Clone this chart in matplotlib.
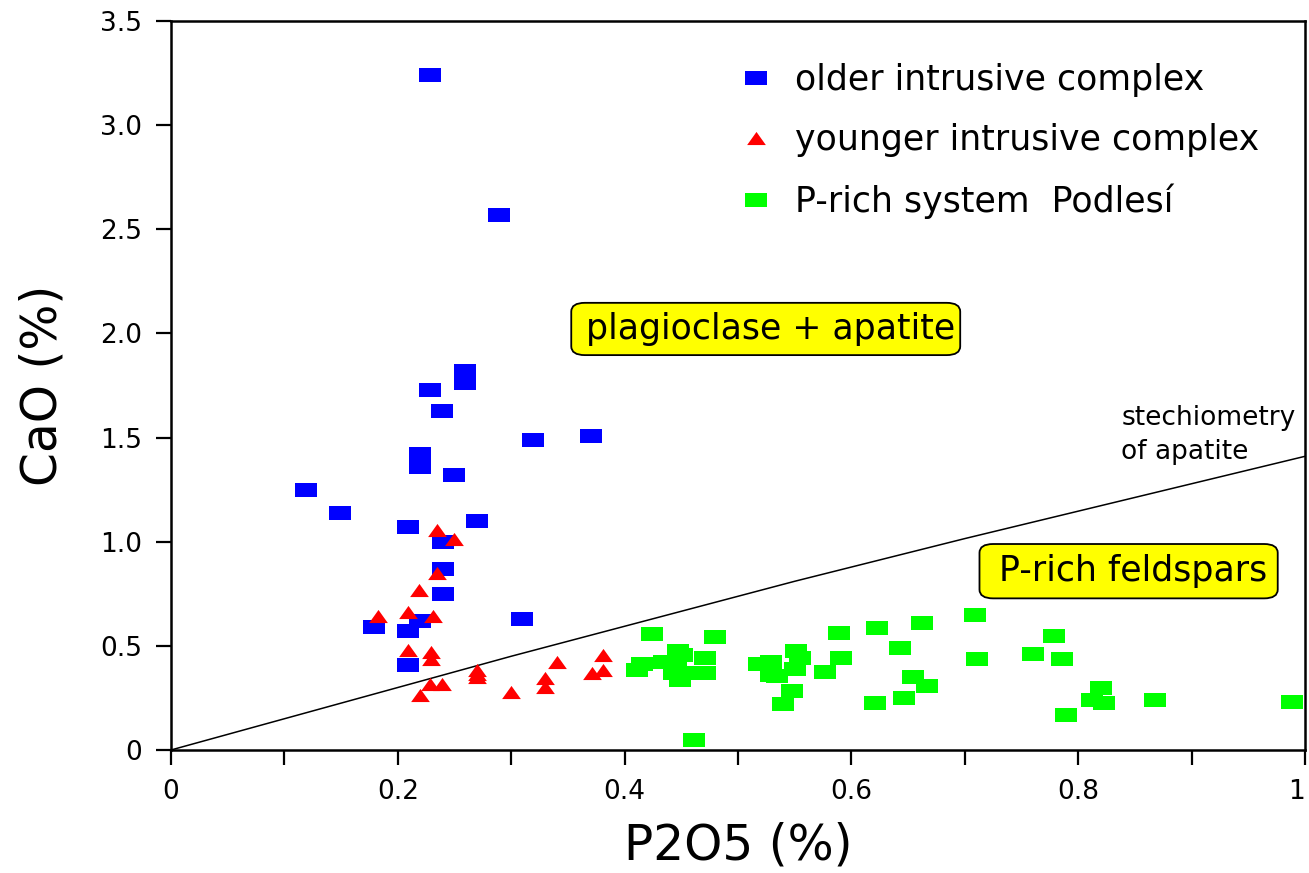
import numpy as np
import matplotlib
matplotlib.use("Agg")
import matplotlib.pyplot as plt
from matplotlib.patches import FancyBboxPatch

plt.rcParams['font.family'] = ['DejaVu Sans']

# older intrusive complex
older_p2o5 = [0.228, 0.289, 0.259, 0.259, 0.228, 0.239, 0.319, 0.370, 0.220, 0.220,
              0.250, 0.119, 0.149, 0.209, 0.270, 0.240, 0.240, 0.240, 0.310, 0.220,
              0.179, 0.209, 0.209]
older_cao = [3.24, 2.57, 1.82, 1.76, 1.73, 1.63, 1.49, 1.51, 1.42, 1.36,
             1.32, 1.25, 1.14, 1.07, 1.10, 1.00, 0.87, 0.75, 0.63, 0.62,
             0.59, 0.57, 0.41]

# younger intrusive complex
younger_p2o5 = [0.235, 0.250, 0.235, 0.219, 0.183, 0.209, 0.231, 0.209, 0.229, 0.229,
                0.220, 0.228, 0.239, 0.270, 0.270, 0.270, 0.300, 0.330, 0.330, 0.340,
                0.371, 0.381, 0.381]
younger_cao = [1.056, 1.013, 0.850, 0.768, 0.643, 0.662, 0.643, 0.480, 0.472, 0.438,
               0.262, 0.317, 0.317, 0.384, 0.367, 0.350, 0.280, 0.346, 0.302, 0.422,
               0.370, 0.456, 0.386]

# P-rich system Podlesi
podlesi_p2o5 = [0.424, 0.480, 0.589, 0.623, 0.411, 0.415, 0.435, 0.447, 0.451, 0.445,
                0.444, 0.449, 0.471, 0.465, 0.471, 0.519, 0.529, 0.529, 0.534, 0.551,
                0.555, 0.550, 0.548, 0.540, 0.591, 0.577, 0.621, 0.461, 0.662, 0.709,
                0.643, 0.711, 0.654, 0.667, 0.646, 0.779, 0.760, 0.786, 0.789, 0.820,
                0.812, 0.823, 0.868, 0.989]
podlesi_cao = [0.557, 0.542, 0.562, 0.587, 0.386, 0.414, 0.422, 0.475, 0.454, 0.400,
               0.368, 0.335, 0.443, 0.372, 0.372, 0.414, 0.422, 0.360, 0.354, 0.475,
               0.442, 0.390, 0.284, 0.221, 0.442, 0.374, 0.226, 0.048, 0.610, 0.646,
               0.491, 0.438, 0.350, 0.307, 0.250, 0.547, 0.461, 0.438, 0.166, 0.298,
               0.239, 0.228, 0.240, 0.230]

# stechiometry of apatite line
apatite_p2o5 = [0, 0.3, 0.55, 0.7, 1.0]
apatite_cao = [0, 0.45, 0.81, 1.015, 1.41]

rect = [(-1, -0.62), (1, -0.62), (1, 0.62), (-1, 0.62)]
tri = [(-1, -0.7), (1, -0.7), (0, 0.7)]

fig = plt.figure(figsize=(13.09, 8.73), dpi=100)
ax = fig.add_axes([0.1306, 0.1409, 0.8663, 0.835])

ax.plot(apatite_p2o5, apatite_cao, color='black', lw=1.1, zorder=1)

ax.plot(older_p2o5, older_cao, ls='none', marker=rect, ms=15.5, color='#0000ff',
        mec='#0000ff', mew=0, label='older intrusive complex', zorder=3)
ax.plot(younger_p2o5, younger_cao, ls='none', marker=tri, ms=13.5, color='#ff0000',
        mec='#ff0000', mew=0, label='younger intrusive complex', zorder=4)
ax.plot(podlesi_p2o5, podlesi_cao, ls='none', marker=rect, ms=15.5, color='#00ff00',
        mec='#00ff00', mew=0, label='P-rich system  Podlesí', zorder=3)

ax.set_xlim(0, 1)
ax.set_ylim(0, 3.5)

xt = np.round(np.arange(0, 1.01, 0.1), 1)
ax.set_xticks(xt)
ax.set_xticklabels(['0' if v == 0 else ('1' if v == 1 else (f'{v:.1f}' if round(v * 10) % 2 == 0 else '')) for v in xt])
yt = np.arange(0, 3.51, 0.5)
ax.set_yticks(yt)
ax.set_yticklabels(['0'] + [f'{v:.1f}' for v in yt[1:]])

ax.tick_params(direction='out', length=11, width=1.6, labelsize=19, pad=10)
ax.get_xticklabels()[-1].set_horizontalalignment('right')
for s in ax.spines.values():
    s.set_linewidth(1.8)

ax.set_xlabel('P2O5 (%)', fontsize=35, labelpad=12)
ax.set_ylabel('CaO (%)', fontsize=35, labelpad=24)

leg = ax.legend(loc='upper left', bbox_to_anchor=(0.5005, 0.942), frameon=False,
                fontsize=25, handlelength=1.0, handletextpad=0.62, labelspacing=0.75,
                borderpad=0, borderaxespad=0, numpoints=1)

# labelled fields
for (x0, y0, x1, y1, txt) in [(0.353, 1.896, 0.696, 2.147, 'plagioclase + apatite'),
                               (0.713, 0.728, 0.976, 0.989, 'P-rich feldspars')]:
    box = FancyBboxPatch((x0, y0), x1 - x0, y1 - y0,
                         boxstyle='round,pad=0,rounding_size=0.012',
                         mutation_aspect=3.5,
                         fc='#ffff00', ec='black', lw=1.3, zorder=5)
    ax.add_patch(box)
    ax.text((x0 + x1) / 2 + 0.004, (y0 + y1) / 2, txt, fontsize=25,
            ha='center', va='center', zorder=6)

ax.text(0.838, 1.512, 'stechiometry\nof apatite', fontsize=19, ha='left',
        va='center', linespacing=1.4, zorder=6)

fig.savefig('out.png', dpi=100)
